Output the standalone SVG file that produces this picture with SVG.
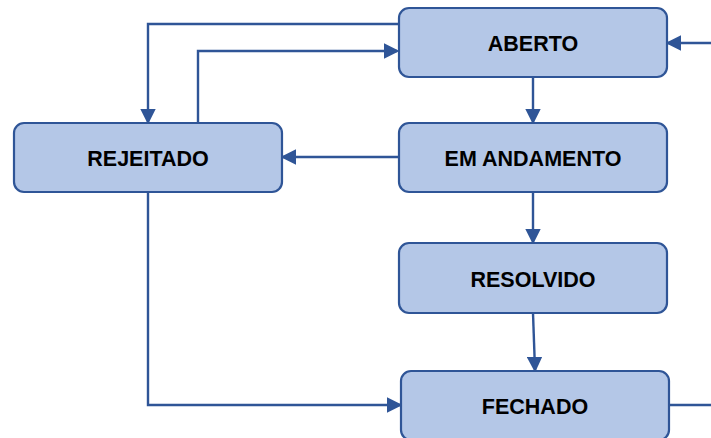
<svg xmlns="http://www.w3.org/2000/svg" width="711" height="438" viewBox="0 0 711 438">
<style>
.box{fill:#B4C7E7;stroke:#2F5597;stroke-width:2.2}
.lbl{font-family:"Liberation Sans",Arial,sans-serif;font-weight:bold;font-size:21.5px;fill:#000;text-anchor:middle}
.ln{fill:none;stroke:#2F5597;stroke-width:2.4}
</style>
<defs>
<marker id="ah" markerWidth="6.5" markerHeight="6.5" refX="5.5" refY="3.25" orient="auto" markerUnits="strokeWidth" viewBox="0 0 6.5 6.5">
<path d="M0,0 L6.5,3.25 L0,6.5 Z" fill="#2F5597"/>
</marker>
</defs>
<g id="connectors">
<path class="ln" d="M399,24 H148 V122" marker-end="url(#ah)"/>
<path class="ln" d="M198,122 V51 H397" marker-end="url(#ah)"/>
<path class="ln" d="M711,43 H668" marker-end="url(#ah)"/>
<path class="ln" d="M533,77 V122" marker-end="url(#ah)"/>
<path class="ln" d="M399,157 H283" marker-end="url(#ah)"/>
<path class="ln" d="M533,192 V242" marker-end="url(#ah)"/>
<path class="ln" d="M533,313 L535,370" marker-end="url(#ah)"/>
<path class="ln" d="M148,192 V405 H400" marker-end="url(#ah)"/>
<path class="ln" d="M669,405 H711"/>
</g>
<g id="aberto">
<rect class="box" x="399" y="8" width="268" height="69" rx="10"/>
<text class="lbl" x="533" y="51">ABERTO</text>
</g>
<g id="rejeitado">
<rect class="box" x="14" y="123" width="268" height="69" rx="10"/>
<text class="lbl" x="148" y="166">REJEITADO</text>
</g>
<g id="em-andamento">
<rect class="box" x="399" y="123" width="268" height="69" rx="10"/>
<text class="lbl" x="533" y="166">EM ANDAMENTO</text>
</g>
<g id="resolvido">
<rect class="box" x="399" y="243" width="268" height="70" rx="10"/>
<text class="lbl" x="533" y="287">RESOLVIDO</text>
</g>
<g id="fechado">
<rect class="box" x="401" y="371" width="268" height="69" rx="10"/>
<text class="lbl" x="535" y="414">FECHADO</text>
</g>
</svg>
